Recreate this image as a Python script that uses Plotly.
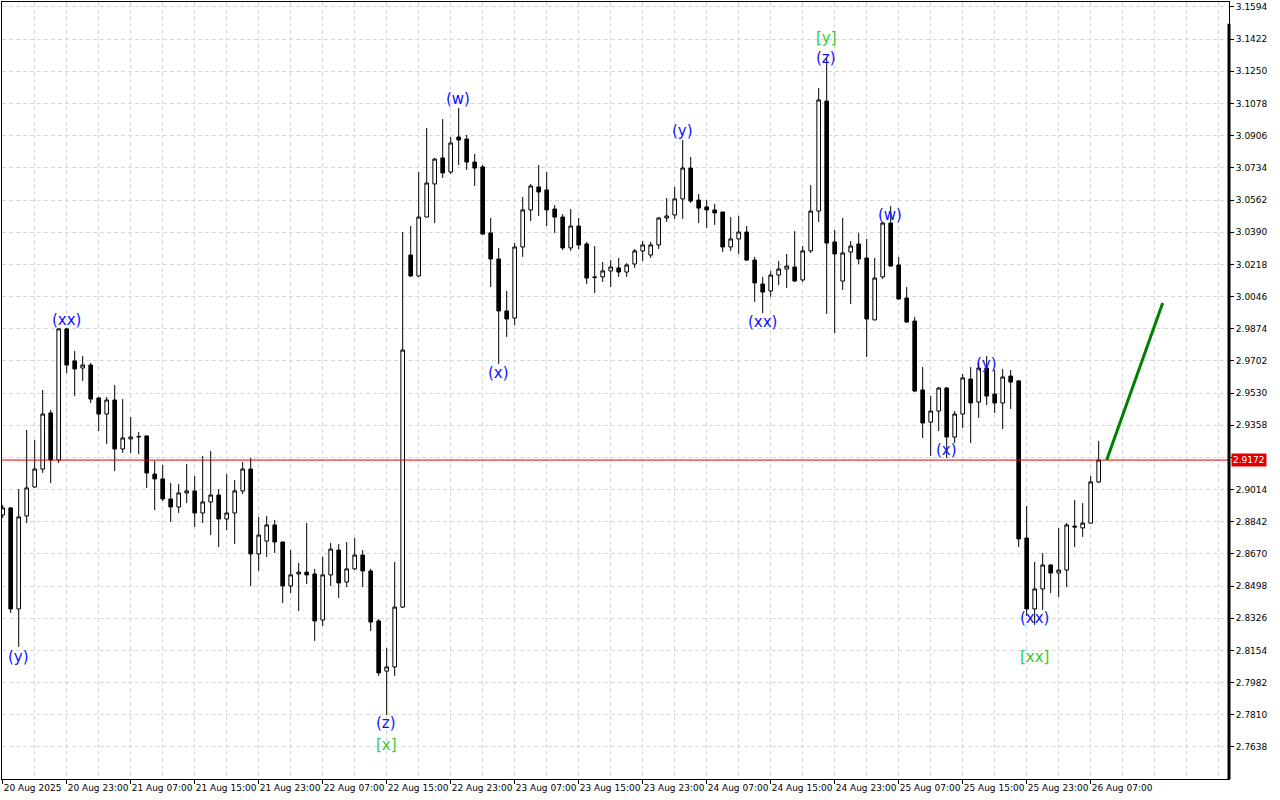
import pandas as pd
import plotly.graph_objects as go

# ---------------- data (XRP-like hourly candles) ----------------
start_time = "2025-08-20 15:00"

open_ = [2.8878, 2.8916, 2.8376, 2.8873, 2.9028, 2.9124, 2.9424, 2.9172, 2.9873, 2.9702,
         2.9664, 2.9680, 2.9504, 2.9418, 2.9493, 2.9231, 2.9285, 2.9295, 2.9301, 2.9097,
         2.9071, 2.8964, 2.8921, 2.8996, 2.9007, 2.8889, 2.8948, 2.8985, 2.8857, 2.8889,
         2.9007, 2.9124, 2.8670, 2.8739, 2.8825, 2.8734, 2.8499, 2.8563, 2.8573, 2.8563,
         2.8317, 2.8558, 2.8691, 2.8520, 2.8590, 2.8664, 2.8579, 2.8312, 2.8044, 2.8066,
         2.8386, 3.0268, 3.0156, 3.0471, 3.0648, 3.0787, 3.0712, 3.0899, 3.0888, 3.0765,
         3.0739, 3.0386, 3.0247, 2.9969, 2.9931, 3.0311, 3.0509, 3.0632, 3.0616, 3.0514,
         3.0471, 3.0306, 3.0423, 3.0327, 3.0151, 3.0151, 3.0183, 3.0199, 3.0177, 3.0220,
         3.0290, 3.0268, 3.0322, 3.0466, 3.0482, 3.0568, 3.0733, 3.0562, 3.0525, 3.0509,
         3.0498, 3.0311, 3.0354, 3.0391, 3.0241, 3.0113, 3.0076, 3.0161, 3.0193, 3.0204,
         3.0135, 3.0290, 3.0503, 3.1091, 3.0338, 3.0129, 3.0284, 3.0327, 3.0252, 2.9921,
         3.0151, 3.0439, 3.0215, 3.0038, 2.9915, 2.9547, 2.9375, 2.9434, 2.9557, 2.9295,
         2.9418, 2.9605, 2.9482, 2.9664, 2.9525, 2.9477, 2.9621, 2.9595, 2.8755, 2.8376,
         2.8483, 2.8611, 2.8568, 2.8584, 2.8819, 2.8809, 2.8835, 2.9055]

high = [2.8932, 2.8921, 2.9017, 2.9333, 2.9279, 2.9547, 2.9440, 2.9878, 2.9878, 2.9755,
        2.9728, 2.9691, 2.9509, 2.9509, 2.9573, 2.9498, 2.9402, 2.9322, 2.9302, 2.9167,
        2.9146, 2.9049, 2.9044, 2.9151, 2.9087, 2.9194, 2.9220, 2.9017, 2.9097, 2.9065,
        2.9162, 2.9183, 2.8868, 2.8873, 2.8852, 2.8735, 2.8691, 2.8622, 2.8835, 2.8590,
        2.8654, 2.8729, 2.8723, 2.8734, 2.8755, 2.8691, 2.8590, 2.8322, 2.8167, 2.8627,
        3.0391, 3.0423, 3.0712, 3.0947, 3.0787, 3.0995, 3.0899, 3.1054, 3.0910, 3.0808,
        3.0749, 3.0466, 3.0306, 3.0076, 3.0332, 3.0578, 3.0648, 3.0749, 3.0712, 3.0535,
        3.0487, 3.0514, 3.0466, 3.0338, 3.0316, 3.0231, 3.0241, 3.0252, 3.0225, 3.0300,
        3.0343, 3.0338, 3.0471, 3.0573, 3.0632, 3.0883, 3.0792, 3.0594, 3.0562, 3.0541,
        3.0499, 3.0471, 3.0477, 3.0423, 3.0258, 3.0151, 3.0183, 3.0236, 3.0274, 3.0396,
        3.0316, 3.0642, 3.1161, 3.1321, 3.0402, 3.0466, 3.0343, 3.0386, 3.0354, 3.0252,
        3.0445, 3.0530, 3.0258, 3.0097, 2.9937, 2.9669, 2.9514, 2.9563, 2.9563, 2.9434,
        2.9632, 2.9669, 2.9691, 2.9728, 2.9653, 2.9659, 2.9653, 2.9600, 2.8926, 2.8627,
        2.8675, 2.8616, 2.8809, 2.8835, 2.8958, 2.8942, 2.9087, 2.9274]

low = [2.8862, 2.8354, 2.8173, 2.8835, 2.9023, 2.9103, 2.9049, 2.9156, 2.9637, 2.9514,
       2.9595, 2.9477, 2.9327, 2.9258, 2.9113, 2.9210, 2.9210, 2.9204, 2.9023, 2.8905,
       2.8953, 2.8841, 2.8889, 2.8942, 2.8814, 2.8835, 2.8771, 2.8707, 2.8798, 2.8723,
       2.8990, 2.8499, 2.8579, 2.8654, 2.8675, 2.8408, 2.8461, 2.8365, 2.8509, 2.8205,
       2.8285, 2.8499, 2.8435, 2.8493, 2.8584, 2.8493, 2.8258, 2.8018, 2.7809, 2.8018,
       2.8381, 3.0151, 3.0151, 3.0470, 3.0439, 3.0680, 3.0701, 3.0749, 3.0723, 3.0637,
       3.0379, 3.0097, 2.9686, 2.9830, 2.9894, 3.0258, 3.0450, 3.0477, 3.0423, 3.0386,
       3.0295, 3.0290, 3.0300, 3.0113, 3.0065, 3.0124, 3.0097, 3.0151, 3.0151, 3.0199,
       3.0236, 3.0252, 3.0300, 3.0445, 3.0461, 3.0461, 3.0546, 3.0439, 3.0413, 3.0429,
       3.0284, 3.0290, 3.0274, 3.0236, 3.0017, 2.9958, 3.0044, 3.0108, 3.0092, 3.0124,
       3.0124, 3.0279, 3.0445, 2.9953, 2.9851, 3.0081, 3.0006, 3.0220, 2.9723, 2.9920,
       3.0140, 3.0208, 3.0028, 2.9905, 2.9536, 2.9290, 2.9194, 2.9327, 2.9183, 2.9263,
       2.9343, 2.9263, 2.9397, 2.9466, 2.9424, 2.9338, 2.9445, 2.8707, 2.8338, 2.8290,
       2.8370, 2.8461, 2.8440, 2.8493, 2.8707, 2.8761, 2.8834, 2.9049]

close = [2.8916, 2.8376, 2.8868, 2.9023, 2.9124, 2.9418, 2.9172, 2.9873, 2.9680, 2.9659,
         2.9680, 2.9498, 2.9418, 2.9493, 2.9231, 2.9290, 2.9295, 2.9298, 2.9103, 2.9071,
         2.8964, 2.8921, 2.8996, 2.9007, 2.8889, 2.8948, 2.8985, 2.8857, 2.8889, 2.9007,
         2.9124, 2.8670, 2.8771, 2.8825, 2.8734, 2.8499, 2.8558, 2.8573, 2.8558, 2.8312,
         2.8558, 2.8696, 2.8515, 2.8590, 2.8664, 2.8579, 2.8306, 2.8034, 2.8066, 2.8386,
         2.9760, 3.0156, 3.0471, 3.0653, 3.0781, 3.0707, 3.0867, 3.0883, 3.0765, 3.0733,
         3.0380, 3.0247, 2.9969, 2.9926, 3.0311, 3.0509, 3.0637, 3.0605, 3.0509, 3.0471,
         3.0306, 3.0423, 3.0322, 3.0145, 3.0148, 3.0183, 3.0204, 3.0177, 3.0215, 3.0290,
         3.0322, 3.0322, 3.0466, 3.0477, 3.0568, 3.0733, 3.0557, 3.0519, 3.0509, 3.0493,
         3.0311, 3.0354, 3.0391, 3.0241, 3.0119, 3.0070, 3.0161, 3.0193, 3.0209, 3.0129,
         3.0290, 3.0503, 3.1097, 3.0332, 3.0274, 3.0279, 3.0316, 3.0247, 2.9926, 3.0145,
         3.0439, 3.0209, 3.0033, 2.9910, 2.9541, 2.9370, 2.9434, 2.9557, 2.9295, 2.9418,
         2.9611, 2.9477, 2.9664, 2.9514, 2.9477, 2.9616, 2.9589, 2.8750, 2.8376, 2.8483,
         2.8611, 2.8568, 2.8584, 2.8825, 2.8814, 2.8835, 2.9055, 2.9172]

times = pd.date_range(start_time, periods=len(open_), freq="h")

x_tick_vals = ["2025-08-20 15:00", "2025-08-20 23:00", "2025-08-21 07:00", "2025-08-21 15:00",
               "2025-08-21 23:00", "2025-08-22 07:00", "2025-08-22 15:00", "2025-08-22 23:00",
               "2025-08-23 07:00", "2025-08-23 15:00", "2025-08-23 23:00", "2025-08-24 07:00",
               "2025-08-24 15:00", "2025-08-24 23:00", "2025-08-25 07:00", "2025-08-25 15:00",
               "2025-08-25 23:00", "2025-08-26 07:00"]
x_tick_text = ["20 Aug 2025", "20 Aug 23:00", "21 Aug 07:00", "21 Aug 15:00",
               "21 Aug 23:00", "22 Aug 07:00", "22 Aug 15:00", "22 Aug 23:00",
               "23 Aug 07:00", "23 Aug 15:00", "23 Aug 23:00", "24 Aug 07:00",
               "24 Aug 15:00", "24 Aug 23:00", "25 Aug 07:00", "25 Aug 15:00",
               "25 Aug 23:00", "26 Aug 07:00"]

y_tick_vals = [3.1594, 3.1422, 3.1250, 3.1078, 3.0906, 3.0734, 3.0562, 3.0390, 3.0218, 3.0046,
               2.9874, 2.9702, 2.9530, 2.9358, 2.9186, 2.9014, 2.8842, 2.8670, 2.8498, 2.8326,
               2.8154, 2.7982, 2.7810, 2.7638]

bid_price = 2.9172
forecast_time = ["2025-08-26 09:00", "2025-08-26 16:00"]
forecast_price = [2.9172, 3.0012]

# the price label hidden behind the bid box is left blank
y_tick_text = ["" if abs(v - bid_price) < 0.002 else "%.4f" % v for v in y_tick_vals]

label_text = ["(y)", "(xx)", "(z)", "[x]", "(w)", "(x)", "(y)", "(xx)", "[y]", "(z)",
              "(w)", "(x)", "(y)", "(xx)", "[xx]"]
label_time = ["2025-08-20 16:55", "2025-08-20 22:55", "2025-08-22 14:55", "2025-08-22 14:55",
              "2025-08-22 23:55", "2025-08-23 04:55", "2025-08-24 03:55", "2025-08-24 13:55",
              "2025-08-24 21:55", "2025-08-24 21:55", "2025-08-25 05:55", "2025-08-25 12:55",
              "2025-08-25 17:55", "2025-08-25 23:55", "2025-08-25 23:55"]
label_price = [2.8119, 2.9921, 2.7766, 2.7649, 3.1102, 2.9637, 3.0931, 2.9910, 3.1428, 3.1321,
               3.0482, 2.9226, 2.9686, 2.8328, 2.8119]

# ---------------- figure ----------------
GRID = "#d8d8d8"
fig = go.Figure()

fig.add_trace(go.Candlestick(
    x=times, open=open_, high=high, low=low, close=close,
    increasing=dict(line=dict(color="black", width=1), fillcolor="white"),
    decreasing=dict(line=dict(color="black", width=1), fillcolor="black"),
    whiskerwidth=0, showlegend=False, hoverinfo="skip",
))

fig.add_trace(go.Scatter(
    x=forecast_time, y=forecast_price, mode="lines",
    line=dict(color="#008000", width=3), showlegend=False, hoverinfo="skip",
))

# bid line
fig.add_shape(type="line", xref="paper", x0=0, x1=1, yref="y", y0=bid_price, y1=bid_price,
              line=dict(color="#e00000", width=1), layer="above")
# thick right border
fig.add_shape(type="line", xref="paper", x0=1, x1=1, yref="paper", y0=0, y1=0.972,
              line=dict(color="black", width=3), layer="above")

for t, tm, pr in zip(label_text, label_time, label_price):
    col = "#33cc33" if t.startswith("[") else "#1010ff"
    fig.add_annotation(x=tm, y=pr, xref="x", yref="y", text=t, showarrow=False,
                       font=dict(family="DejaVu Sans", size=15, color=col),
                       xanchor="center", yanchor="middle")

fig.add_annotation(x=1, xref="paper", y=bid_price, yref="y", text="%.4f" % bid_price,
                   showarrow=False, xanchor="left", yanchor="middle", xshift=2,
                   bgcolor="#e00000", font=dict(family="DejaVu Sans", size=9, color="white"),
                   borderpad=1)

fig.update_layout(
    width=1280, height=800,
    margin=dict(l=2, r=51, t=2, b=21, autoexpand=False),
    paper_bgcolor="white", plot_bgcolor="white",
    boxgap=0.35,
    showlegend=False,
    xaxis=dict(
        type="date",
        range=["2025-08-20 14:54:45", "2025-08-27 00:17:24"],
        tickmode="array", tickvals=x_tick_vals, ticktext=x_tick_text,
        tickangle=0, automargin=False,
        ticks="outside", ticklen=4, tickcolor="black",
        ticklabelposition="outside right",
        tickfont=dict(family="DejaVu Sans", size=9, color="black"),
        showgrid=True, gridcolor=GRID, griddash="4px,3px", gridwidth=1,
        minor=dict(dtick=4 * 3600 * 1000, tick0="2025-08-20 15:00", showgrid=True,
                   gridcolor=GRID, griddash="4px,3px", ticks=""),
        showline=True, linecolor="black", linewidth=1, mirror=True,
        zeroline=False, rangeslider=dict(visible=False), fixedrange=True,
    ),
    yaxis=dict(
        side="right",
        range=[2.74669, 3.16207],
        tickmode="array", tickvals=y_tick_vals, ticktext=y_tick_text,
        automargin=False,
        ticks="outside", ticklen=4, tickcolor="black",
        tickfont=dict(family="DejaVu Sans", size=9, color="black"),
        showgrid=True, gridcolor=GRID, griddash="4px,3px", gridwidth=1,
        showline=True, linecolor="black", linewidth=1, mirror=True,
        zeroline=False, fixedrange=True,
    ),
)

fig.write_html("out.html", config={"displayModeBar": False},
               post_script="document.body.style.margin='0';")
